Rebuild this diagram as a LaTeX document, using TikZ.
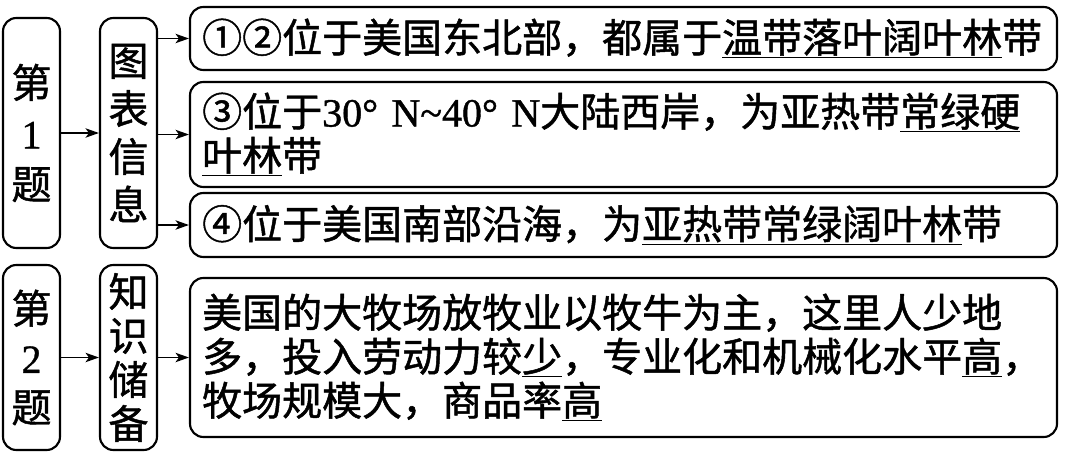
\documentclass[tikz,border=0pt]{standalone}
\usepackage{fontspec}
\setmainfont{Liberation Serif}
\newfontfamily\cjk[FakeBold=1.2]{Noto Sans CJK SC}
\newfontfamily\latfont[FakeBold=1]{Liberation Serif}
\usetikzlibrary{arrows.meta}
\newcommand\lat[1]{{\latfont #1}}
\newcommand\qnum[1]{\makebox[30pt]{#1}}

\begin{document}
\begin{tikzpicture}[x=0.75pt,y=-0.75pt,
  box/.style={draw,line width=1.6pt,rounded corners=10pt,inner sep=0pt},
  tag/.style={box,minimum width=42.75pt,align=center},
  info/.style={box,minimum width=650.25pt,text width=632pt,align=left,font=\cjk\fontsize{30}{33}\selectfont},
  link/.style={-{Stealth[length=10pt,width=7pt,inset=2.5pt]},line width=1.2pt}]
\useasboundingbox (0,0) rectangle (1080,460);
\node[tag,minimum height=172.5pt,font=\cjk\fontsize{30}{38}\selectfont] (t1) at (31.5,133) {第\\\lat{1}\\题};
\node[tag,minimum height=172.5pt,font=\cjk\fontsize{30}{36}\selectfont] (g1) at (128.5,133) {图\\表\\信\\息};
\node[info,minimum height=47.25pt] (c1) at (623.5,38.5) {\qnum{①}\qnum{②}位于美国东北部，都属于\underline{温带落叶阔叶林}带};
\node[info,minimum height=78.75pt] (c2) at (623.5,134.5) {\qnum{③}位于\lat{30° N\textasciitilde40° N}大陆西岸，为亚热带\underline{常绿硬}\\\underline{叶林}带};
\node[info,minimum height=48pt] (c3) at (623.5,225) {\qnum{④}位于美国南部沿海，为\underline{亚热带常绿阔叶林}带};
\node[tag,minimum height=138.75pt,font=\cjk\fontsize{30}{37}\selectfont] (t2) at (31.5,357.5) {第\\\lat{2}\\题};
\node[tag,minimum height=138.75pt,font=\cjk\fontsize{30}{33}\selectfont] (g2) at (128.5,357.5) {知\\识\\储\\备};
\node[info,minimum height=119.25pt] (c4) at (623.5,357.5) {美国的大牧场放牧业以牧牛为主，这里人少地\\多，投入劳动力较\underline{少}，专业化和机械化水平\underline{高}，\\牧场规模大，商品率\underline{高}};
\draw[link] (t1) -- (g1);
\draw[link] (g1.east |- c1) -- (c1.west);
\draw[link] (g1.east |- c2) -- (c2.west);
\draw[link] (g1.east |- c3) -- (c3.west);
\draw[link] (t2) -- (g2);
\draw[link] (g2) -- (c4);
\end{tikzpicture}
\end{document}
